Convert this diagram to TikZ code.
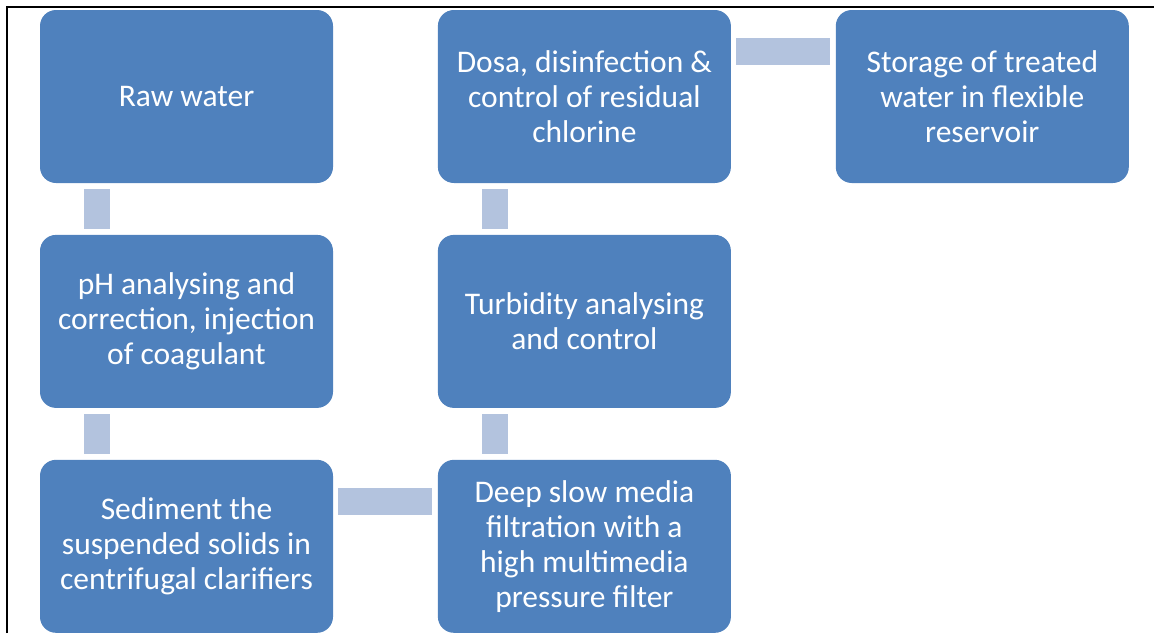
\documentclass[tikz,border=0pt]{standalone}
\usepackage{fontspec}
\setmainfont{Carlito}
\usepackage{tikz}
\usetikzlibrary{positioning, calc}
\definecolor{stepblue}{RGB}{79, 129, 189}
\definecolor{linkblue}{RGB}{179, 195, 222}

\begin{document}
\begin{tikzpicture}[
    x=1pt, y=-1pt,
    node distance=51.5pt and 104.5pt,
    stage/.style={
        rectangle, fill=stepblue, draw=none, rounded corners=16pt,
        minimum width=293pt, minimum height=173pt, inner sep=0pt,
        align=center, text=white, font=\fontsize{31.5}{35}\selectfont
    },
    vlink/.style={
        draw=linkblue, line width=26pt, shorten <=6pt, shorten >=6pt
    },
    hlink/.style={
        draw=linkblue, line width=27pt, shorten <=5pt, shorten >=6pt
    },
    frameline/.style={
        draw=black, line width=1.3pt
    }
]
\useasboundingbox (0,0) rectangle (1154,633);

% Frame
\draw[frameline] (7,633) -- (7,7) -- (1154,7);

% Stages
\node[stage] (raw) at (186.5,96.5) {Raw water};
\node[stage, below=of raw] (ph) {pH analysing and\\correction, injection\\of coagulant};
\node[stage, below=of ph] (sediment) {Sediment the\\suspended solids in\\centrifugal clarifiers};
\node[stage, right=of sediment] (filter) {Deep slow media\\filtration with a\\high multimedia\\pressure filter};
\node[stage, above=of filter] (turbidity) {Turbidity analysing\\and control};
\node[stage, above=of turbidity] (dosa) {Dosa, disinfection \&\\control of residual\\chlorine};
\node[stage, right=of dosa] (storage) {Storage of treated\\water in flexible\\reservoir};

% Links
\draw[vlink] ([xshift=57pt]raw.south west) -- ([xshift=57pt]ph.north west);
\draw[vlink] ([xshift=57pt]ph.south west) -- ([xshift=57pt]sediment.north west);
\draw[hlink] ([yshift=-41.5pt]sediment.north east) -- ([yshift=-41.5pt]filter.north west);
\draw[vlink] ([xshift=57pt]filter.north west) -- ([xshift=57pt]turbidity.south west);
\draw[vlink] ([xshift=57pt]turbidity.north west) -- ([xshift=57pt]dosa.south west);
\draw[hlink] ([yshift=-41.5pt]dosa.north east) -- ([yshift=-41.5pt]storage.north west);

\end{tikzpicture}
\end{document}
